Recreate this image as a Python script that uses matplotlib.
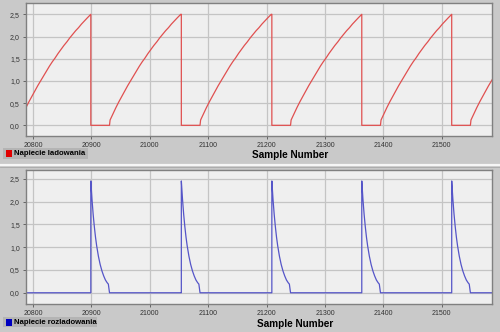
import matplotlib
matplotlib.use("Agg")
import matplotlib.pyplot as plt
from matplotlib.patches import Rectangle
from matplotlib.ticker import FuncFormatter, MultipleLocator
import numpy as np

plt.rcParams['font.family'] = ['Liberation Sans', 'DejaVu Sans']

# sample numbers where each charge cycle peaks (and the discharge pulse starts)
peaks = [20745, 20899, 21054, 21209, 21363, 21517]

# one charging cycle, offsets from the peak (samples) and voltage
charge_offsets = [0, 0, 32, 33, 38, 43, 48, 53, 58, 63, 68, 73, 78, 83, 88, 93, 98,
                  103, 108, 113, 118, 123, 128, 133, 138, 143, 148, 154]
charge_values = [2.50, 0.00, 0.00, 0.12, 0.26, 0.40, 0.53, 0.65, 0.77, 0.89, 1.00,
                 1.11, 1.22, 1.33, 1.43, 1.52, 1.62, 1.71, 1.80, 1.88, 1.97, 2.05,
                 2.13, 2.20, 2.28, 2.35, 2.42, 2.50]

# one discharge pulse, offsets from the peak and voltage
discharge_offsets = [0, 0, 2, 4, 6, 8, 10, 13, 16, 19, 22, 25, 28, 30, 32, 154]
discharge_values = [0.00, 2.45, 2.05, 1.72, 1.45, 1.22, 1.03, 0.80, 0.62, 0.48,
                    0.37, 0.28, 0.22, 0.19, 0.00, 0.00]

xticks = [20800, 20900, 21000, 21100, 21200, 21300, 21400, 21500]


def series(offsets, values):
    xs, ys = [], []
    for p in peaks:
        xs += [p + o for o in offsets]
        ys += values
    return np.array(xs), np.array(ys)


xc, yc = series(charge_offsets, charge_values)
xd, yd = series(discharge_offsets, discharge_values)

bg = '#c9c9c9'
fig = plt.figure(figsize=(5.0, 3.32), dpi=100, facecolor=bg)

fmt = FuncFormatter(lambda v, pos: '{0:.1f}'.format(v).replace('.', ','))


def setup(ax, ylim):
    ax.set_facecolor('#efefef')
    ax.set_xlim(20788, 21586)
    ax.set_ylim(*ylim)
    ax.set_xticks(xticks)
    ax.yaxis.set_major_locator(MultipleLocator(0.5))
    ax.yaxis.set_major_formatter(fmt)
    ax.grid(True, color='#c4c4c4', lw=0.9)
    ax.set_axisbelow(True)
    ax.tick_params(labelsize=5, length=2.5, width=0.6, pad=2,
                   colors='#555555', labelcolor='#333333')
    for s in ax.spines.values():
        s.set_color('#808080')
        s.set_linewidth(1.0)


ax1 = fig.add_axes([0.052, 0.5904, 0.932, 0.4006])
setup(ax1, (-0.24, 2.755))
ax1.plot(xc, yc, color='#e05050', lw=0.9)

ax2 = fig.add_axes([0.052, 0.0852, 0.932, 0.4027])
setup(ax2, (-0.24, 2.69))
ax2.plot(xd, yd, color='#5555c8', lw=0.9)

# separator between the two panels
fig.add_artist(plt.Line2D([0, 1], [0.502, 0.502], color='#f6f6f6', lw=1.6))
fig.add_artist(plt.Line2D([0, 1], [0.497, 0.497], color='#a8a8a8', lw=0.6))

fig.text(0.58, 0.533, 'Sample Number', fontsize=7.2, fontweight='bold',
         ha='center', va='center')
fig.text(0.59, 0.024, 'Sample Number', fontsize=7.2, fontweight='bold',
         ha='center', va='center')

# legend boxes (box x0, x1, y0, y1 in figure fraction), colour square, label
legends = [
    ('Napiecie ladowania', '#e00000', (0.006, 0.176, 0.521, 0.554)),
    ('Napiecie rozladowania', '#0000c0', (0.006, 0.194, 0.0136, 0.0452)),
]
for label, col, (x0, x1, y0, y1) in legends:
    fig.add_artist(Rectangle((x0, y0), x1 - x0, y1 - y0, transform=fig.transFigure,
                             facecolor='#b4b4b4', edgecolor='none'))
    yc_ = (y0 + y1) / 2
    fig.add_artist(Rectangle((0.012, yc_ - 0.0105), 0.012, 0.021,
                             transform=fig.transFigure, facecolor=col,
                             edgecolor='none'))
    fig.text(0.028, yc_, label, fontsize=5.6, fontweight='bold',
             ha='left', va='center')

fig.savefig('out.png', dpi=100, facecolor=bg)
